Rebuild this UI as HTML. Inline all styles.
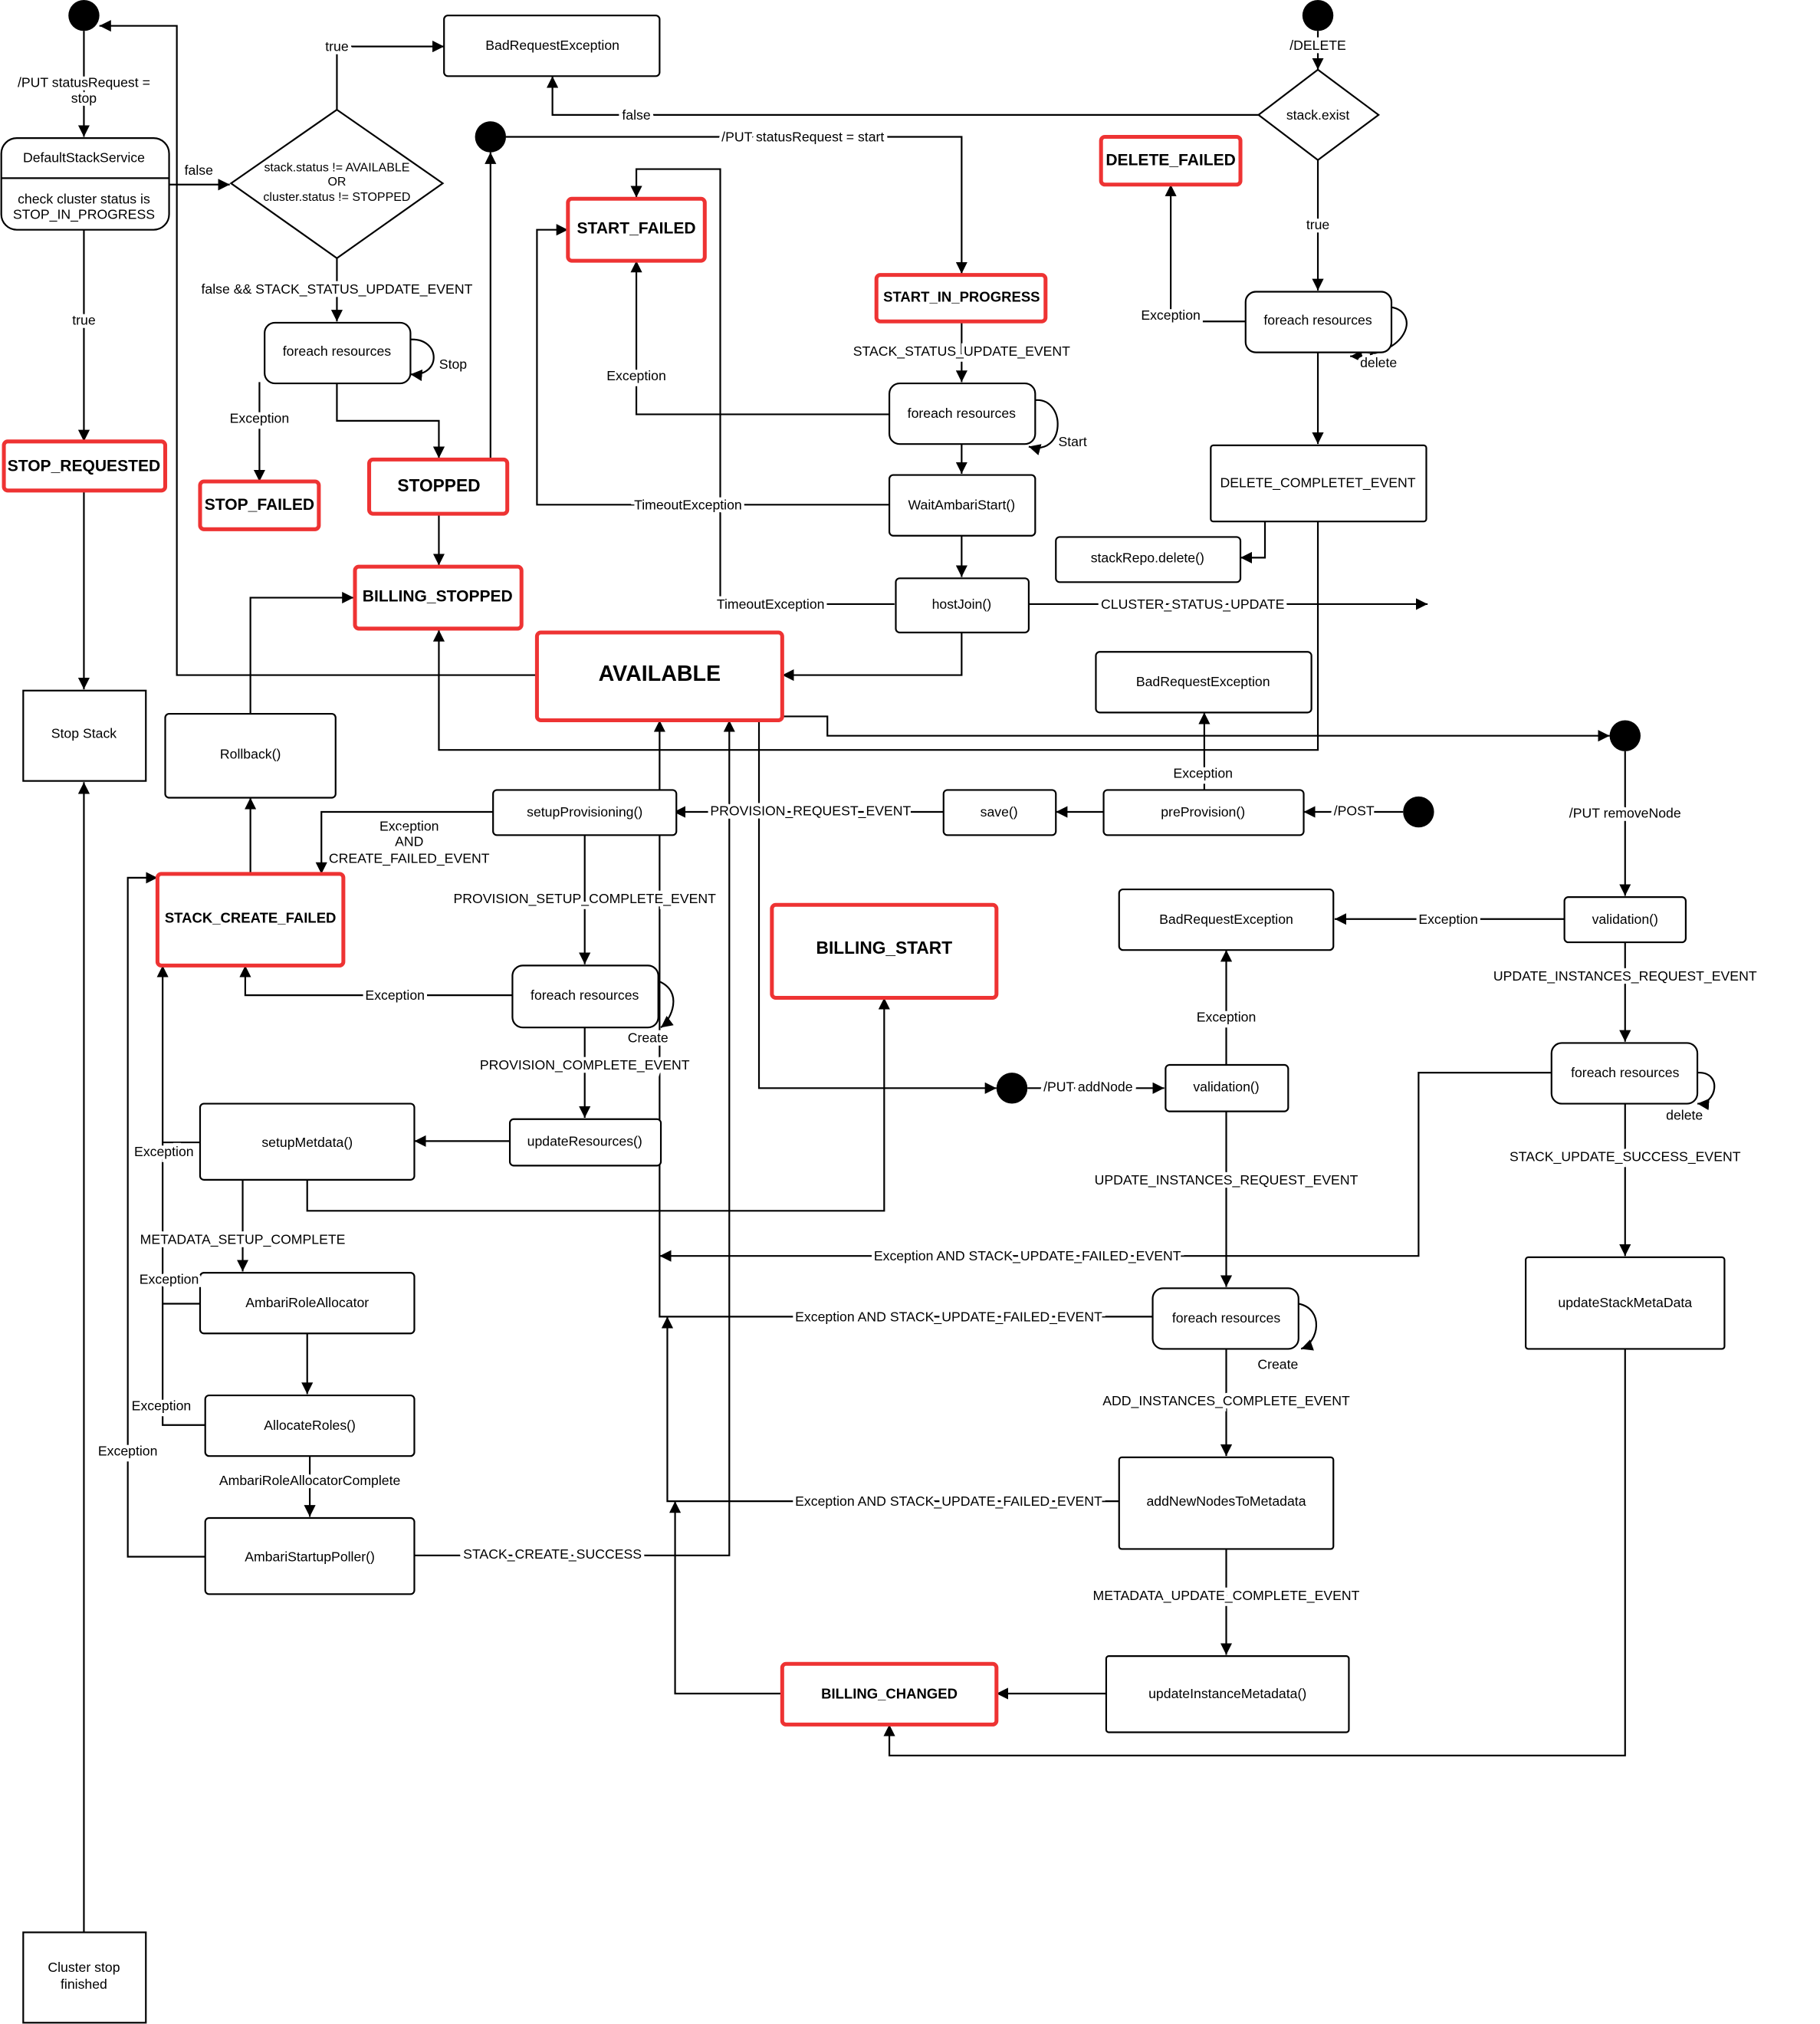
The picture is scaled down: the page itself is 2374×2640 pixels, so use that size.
<!DOCTYPE html>
<html><head><meta charset="utf-8"><style>
html,body{margin:0;padding:0;background:#fff}
svg{display:block}
text{font-family:"Liberation Sans",Arial,sans-serif;font-size:10.5px;fill:#000;text-anchor:middle;dominant-baseline:central}
.l{paint-order:stroke;stroke:#fff;stroke-width:5px}
.b{font-weight:bold;font-size:12.5px}
.ln{fill:none;stroke:#000;stroke-width:1.3}
.bx{fill:#fff;stroke:#000;stroke-width:1.3}
.rd{fill:#fff;stroke:#ee3333;stroke-width:3}
</style></head><body>
<svg width="2374" height="2640" viewBox="0 0 1410 1568" preserveAspectRatio="none" xmlns="http://www.w3.org/2000/svg">
<defs><marker id="a" viewBox="0 0 10 10" refX="10" refY="5" markerWidth="9" markerHeight="9" markerUnits="userSpaceOnUse" orient="auto"><path d="M0,0L10,5L0,10z" fill="#000"/></marker></defs>
<g class="ln" marker-end="url(#a)">
<path d="M65,24V106"/>
<path d="M65,178V342"/>
<path d="M65,380V534"/>
<path d="M65,1497V606"/>
<path d="M131,143H178"/>
<path d="M416,523H137V20H77"/>
<path d="M261,85V36H344"/>
<path d="M261,200V249"/>
<path d="M201,296V373"/>
<path d="M261,297V326H340V355"/>
<path d="M380,356V118"/>
<path d="M340,398V438"/>
<path d="M194,553V463H274"/>
<path d="M1021,404V581H340V488"/>
<path d="M392,106H745V212"/>
<path d="M693,468H558V131H493V153"/>
<path d="M745,249V296"/>
<path d="M689,321H493V202"/>
<path d="M745,344V367"/>
<path d="M689,391H416V178H440"/>
<path d="M745,415V447"/>
<path d="M745,490V523H606"/>
<path d="M797,468H1106"/>
<path d="M1021,24V54"/>
<path d="M975,89H428V59"/>
<path d="M1021,124V225"/>
<path d="M965,249H907V143"/>
<path d="M1021,273V344"/>
<path d="M980,404V432H961"/>
<path d="M933,612V552"/>
<path d="M1087,629H1010"/>
<path d="M855,629H818"/>
<path d="M731,629H522"/>
<path d="M382,629H249V677"/>
<path d="M194,677V618"/>
<path d="M453,647V747"/>
<path d="M397,771H190V748"/>
<path d="M453,796V866"/>
<path d="M395,884H321"/>
<path d="M238,914V938H685V773"/>
<path d="M155,885H126V748"/>
<path d="M159,1206H99V680H122"/>
<path d="M188,914V985"/>
<path d="M238,1033V1080"/>
<path d="M240,1128V1175"/>
<path d="M321,1205H565V558"/>
<path d="M893,1020H511V558"/>
<path d="M1202,831H1099V973H511"/>
<path d="M867,1163H517V1020"/>
<path d="M606,1312H523V1163"/>
<path d="M588,558V843H772"/>
<path d="M606,555H641V570H1247"/>
<path d="M1259,582V694"/>
<path d="M1212,712H1034"/>
<path d="M1259,730V807"/>
<path d="M1259,855V973"/>
<path d="M1259,1045V1360H689V1336"/>
<path d="M796,843H902"/>
<path d="M950,825V736"/>
<path d="M950,861V997"/>
<path d="M950,1045V1128"/>
<path d="M950,1200V1282"/>
<path d="M857,1312H772"/>
<path d="M318,263C342,262 342,292 318,290"/>
<path d="M802,310C826,308 826,354 797,346"/>
<path d="M1078,238C1100,242 1092,276 1046,276"/>
<path d="M510,760C530,768 520,790 512,796"/>
<path d="M1006,1010C1026,1014 1022,1040 1008,1045"/>
<path d="M1315,831C1335,830 1330,856 1315,855"/>
</g>
<g class="ln">
<path d="M155,1010H126M159,1104H126V885"/>
</g>
<g fill="#000">
<circle cx="65" cy="12" r="12"/><circle cx="380" cy="106" r="12"/><circle cx="1021" cy="12" r="12"/>
<circle cx="1259" cy="570" r="12"/><circle cx="1099" cy="629" r="12"/><circle cx="784" cy="843" r="12"/>
</g>
<rect class="bx" x="1" y="107" width="130" height="71" rx="12"/><path class="ln" d="M1,138H131"/>
<rect class="bx" x="18" y="535" width="95" height="70"/>
<rect class="bx" x="18" y="1497" width="95" height="70"/>
<path class="bx" d="M261,85L343,142L261,200L179,142Z"/>
<rect class="bx" x="344" y="12" width="167" height="47" rx="3"/>
<rect class="bx" x="205" y="250" width="113" height="47" rx="8"/>
<rect class="bx" x="128" y="553" width="132" height="65" rx="3"/>
<rect class="bx" x="689" y="297" width="113" height="47" rx="8"/>
<rect class="bx" x="689" y="368" width="113" height="47" rx="3"/>
<rect class="bx" x="694" y="448" width="103" height="42" rx="3"/>
<path class="bx" d="M1021,54L1068,89L1021,124L975,89Z"/>
<rect class="bx" x="965" y="226" width="113" height="47" rx="8"/>
<rect class="bx" x="938" y="345" width="167" height="59" rx="2"/>
<rect class="bx" x="818" y="416" width="143" height="35" rx="3"/>
<rect class="bx" x="849" y="505" width="167" height="47" rx="3"/>
<rect class="bx" x="855" y="612" width="155" height="35" rx="3"/>
<rect class="bx" x="731" y="612" width="87" height="35" rx="3"/>
<rect class="bx" x="382" y="612" width="142" height="35" rx="3"/>
<rect class="bx" x="397" y="748" width="113" height="48" rx="8"/>
<rect class="bx" x="395" y="867" width="117" height="36" rx="3"/>
<rect class="bx" x="155" y="855" width="166" height="59" rx="3"/>
<rect class="bx" x="155" y="986" width="166" height="47" rx="3"/>
<rect class="bx" x="159" y="1081" width="162" height="47" rx="3"/>
<rect class="bx" x="159" y="1176" width="162" height="59" rx="3"/>
<rect class="bx" x="1212" y="695" width="94" height="35" rx="3"/>
<rect class="bx" x="867" y="689" width="166" height="47" rx="3"/>
<rect class="bx" x="1202" y="808" width="113" height="47" rx="8"/>
<rect class="bx" x="1182" y="974" width="154" height="71" rx="2"/>
<rect class="bx" x="903" y="825" width="95" height="36" rx="3"/>
<rect class="bx" x="893" y="998" width="113" height="47" rx="8"/>
<rect class="bx" x="867" y="1129" width="166" height="71" rx="2"/>
<rect class="bx" x="857" y="1283" width="188" height="59" rx="2"/>
<rect class="rd" x="3" y="342" width="125" height="38" rx="3"/>
<rect class="rd" x="155" y="373" width="92" height="37" rx="3"/>
<rect class="rd" x="286" y="356" width="107" height="42" rx="3"/>
<rect class="rd" x="275" y="439" width="129" height="48" rx="3"/>
<rect class="rd" x="416" y="490" width="190" height="68" rx="3"/>
<rect class="rd" x="440" y="154" width="106" height="48" rx="3"/>
<rect class="rd" x="679" y="213" width="131" height="36" rx="3"/>
<rect class="rd" x="853" y="106" width="108" height="37" rx="3"/>
<rect class="rd" x="122" y="677" width="144" height="71" rx="3"/>
<rect class="rd" x="598" y="701" width="174" height="72" rx="3"/>
<rect class="rd" x="606" y="1289" width="166" height="47" rx="3"/>
<g>
<text x="65" y="122">DefaultStackService</text>
<text x="65" y="154">check cluster status is</text>
<text x="65" y="166">STOP_IN_PROGRESS</text>
<text x="65" y="568">Stop Stack</text>
<text x="65" y="1524">Cluster stop</text><text x="65" y="1537">finished</text>
<text x="261" y="130" style="font-size:9.5px">stack.status != AVAILABLE</text>
<text x="261" y="141" style="font-size:9.5px">OR</text>
<text x="261" y="153" style="font-size:9.5px">cluster.status != STOPPED</text>
<text x="428" y="35">BadRequestException</text>
<text x="261" y="272">foreach resources</text>
<text x="194" y="584">Rollback()</text>
<text x="745" y="320">foreach resources</text>
<text x="745" y="391">WaitAmbariStart()</text>
<text x="745" y="468">hostJoin()</text>
<text x="1021" y="89">stack.exist</text>
<text x="1021" y="248">foreach resources</text>
<text x="1021" y="374">DELETE_COMPLETET_EVENT</text>
<text x="889" y="432">stackRepo.delete()</text>
<text x="932" y="528">BadRequestException</text>
<text x="932" y="629">preProvision()</text>
<text x="774" y="629">save()</text>
<text x="453" y="629">setupProvisioning()</text>
<text x="453" y="771">foreach resources</text>
<text x="453" y="884">updateResources()</text>
<text x="238" y="885">setupMetdata()</text>
<text x="238" y="1009">AmbariRoleAllocator</text>
<text x="240" y="1104">AllocateRoles()</text>
<text x="240" y="1206">AmbariStartupPoller()</text>
<text x="1259" y="712">validation()</text>
<text x="950" y="712">BadRequestException</text>
<text x="1259" y="831">foreach resources</text>
<text x="1259" y="1009">updateStackMetaData</text>
<text x="950" y="842">validation()</text>
<text x="950" y="1021">foreach resources</text>
<text x="950" y="1163">addNewNodesToMetadata</text>
<text x="951" y="1312">updateInstanceMetadata()</text>
<text class="b" x="65" y="361">STOP_REQUESTED</text>
<text class="b" x="201" y="391">STOP_FAILED</text>
<text class="b" x="340" y="376" style="font-size:13.5px">STOPPED</text>
<text class="b" x="339" y="462">BILLING_STOPPED</text>
<text class="b" x="511" y="522" style="font-size:17px">AVAILABLE</text>
<text class="b" x="493" y="177">START_FAILED</text>
<text class="b" x="745" y="230" style="font-size:11px">START_IN_PROGRESS</text>
<text class="b" x="907" y="124">DELETE_FAILED</text>
<text class="b" x="194" y="711" style="font-size:11px">STACK_CREATE_FAILED</text>
<text class="b" x="685" y="734" style="font-size:13.5px">BILLING_START</text>
<text class="b" x="689" y="1312" style="font-size:11px">BILLING_CHANGED</text>
</g>
<g class="l">
<text class="l" x="65" y="64">/PUT statusRequest =</text>
<text class="l" x="65" y="76">stop</text>
<text class="l" x="65" y="248">true</text>
<text class="l" x="154" y="132">false</text>
<text class="l" x="261" y="36">true</text>
<text class="l" x="261" y="224">false &amp;&amp; STACK_STATUS_UPDATE_EVENT</text>
<text class="l" x="351" y="282">Stop</text>
<text class="l" x="201" y="324">Exception</text>
<text class="l" x="622" y="106">/PUT statusRequest = start</text>
<text class="l" x="597" y="468">TimeoutException</text>
<text class="l" x="745" y="272">STACK_STATUS_UPDATE_EVENT</text>
<text class="l" x="831" y="342">Start</text>
<text class="l" x="493" y="291">Exception</text>
<text class="l" x="533" y="391">TimeoutException</text>
<text class="l" x="924" y="468">CLUSTER_STATUS_UPDATE</text>
<text class="l" x="1021" y="35">/DELETE</text>
<text class="l" x="493" y="89">false</text>
<text class="l" x="1021" y="174">true</text>
<text class="l" x="907" y="244">Exception</text>
<text class="l" x="1068" y="281">delete</text>
<text class="l" x="932" y="599">Exception</text>
<text class="l" x="1049" y="628">/POST</text>
<text class="l" x="628" y="628">PROVISION_REQUEST_EVENT</text>
<text class="l" x="317" y="640">Exception</text>
<text class="l" x="317" y="652">AND</text>
<text class="l" x="317" y="665">CREATE_FAILED_EVENT</text>
<text class="l" x="453" y="696">PROVISION_SETUP_COMPLETE_EVENT</text>
<text class="l" x="306" y="771">Exception</text>
<text class="l" x="502" y="804">Create</text>
<text class="l" x="453" y="825">PROVISION_COMPLETE_EVENT</text>
<text class="l" x="127" y="892">Exception</text>
<text class="l" x="188" y="960">METADATA_SETUP_COMPLETE</text>
<text class="l" x="131" y="991">Exception</text>
<text class="l" x="125" y="1089">Exception</text>
<text class="l" x="99" y="1124">Exception</text>
<text class="l" x="240" y="1147">AmbariRoleAllocatorComplete</text>
<text class="l" x="428" y="1204">STACK_CREATE_SUCCESS</text>
<text class="l" x="735" y="1020">Exception AND STACK_UPDATE_FAILED_EVENT</text>
<text class="l" x="796" y="973">Exception AND STACK_UPDATE_FAILED_EVENT</text>
<text class="l" x="735" y="1163">Exception AND STACK_UPDATE_FAILED_EVENT</text>
<text class="l" x="1259" y="630">/PUT removeNode</text>
<text class="l" x="1122" y="712">Exception</text>
<text class="l" x="1259" y="756">UPDATE_INSTANCES_REQUEST_EVENT</text>
<text class="l" x="1305" y="864">delete</text>
<text class="l" x="1259" y="896">STACK_UPDATE_SUCCESS_EVENT</text>
<text class="l" x="843" y="842">/PUT addNode</text>
<text class="l" x="950" y="788">Exception</text>
<text class="l" x="950" y="914">UPDATE_INSTANCES_REQUEST_EVENT</text>
<text class="l" x="990" y="1057">Create</text>
<text class="l" x="950" y="1085">ADD_INSTANCES_COMPLETE_EVENT</text>
<text class="l" x="950" y="1236">METADATA_UPDATE_COMPLETE_EVENT</text>
</g>
</svg>
</body></html>
